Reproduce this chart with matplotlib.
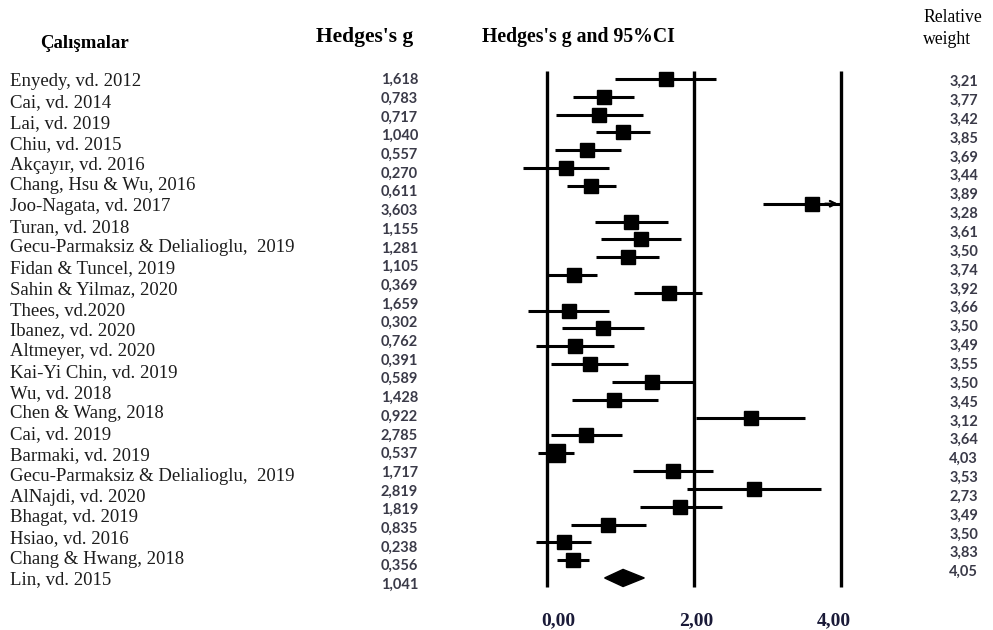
import numpy as np
import matplotlib.pyplot as plt
from matplotlib.transforms import ScaledTranslation

# study labels (left column)
studies = [
    "Enyedy, vd. 2012", "Cai, vd. 2014", "Lai, vd. 2019", "Chiu, vd. 2015",
    "Akçayır, vd. 2016", "Chang, Hsu & Wu, 2016", "Joo-Nagata, vd. 2017",
    "Turan, vd. 2018", "Gecu-Parmaksiz & Delialioglu,  2019",
    "Fidan & Tuncel, 2019", "Sahin & Yilmaz, 2020", "Thees, vd.2020",
    "Ibanez, vd. 2020", "Altmeyer, vd. 2020", "Kai-Yi Chin, vd. 2019",
    "Wu, vd. 2018", "Chen & Wang, 2018", "Cai, vd. 2019", "Barmaki, vd. 2019",
    "Gecu-Parmaksiz & Delialioglu,  2019", "AlNajdi, vd. 2020",
    "Bhagat, vd. 2019", "Hsiao, vd. 2016", "Chang & Hwang, 2018", "Lin, vd. 2015",
]

# effect sizes listed in the Hedges's g column
hedges_g = [1.618, 0.783, 0.717, 1.040, 0.557, 0.270, 0.611, 3.603, 1.155,
            1.281, 1.105, 0.369, 1.659, 0.302, 0.762, 0.391, 0.589, 1.428,
            0.922, 2.785, 0.537, 1.717, 2.819, 1.819, 0.835, 0.238, 0.356]
pooled_g = 1.041

weights = [3.21, 3.77, 3.42, 3.85, 3.69, 3.44, 3.89, 3.28, 3.61, 3.50, 3.74,
           3.92, 3.66, 3.50, 3.49, 3.55, 3.50, 3.45, 3.12, 3.64, 4.03, 3.53,
           2.73, 3.49, 3.50, 3.83, 4.05]

# forest rows (one extra unlabelled study between rows 21 and 22)
extra_row = 21
effects = hedges_g[:extra_row] + [0.13] + hedges_g[extra_row:]
lower = [0.93, 0.365, 0.125, 0.67, 0.11, -0.32, 0.28, 2.94, 0.66, 0.74, 0.67,
         0.02, 1.19, -0.25, 0.21, -0.14, 0.06, 0.89, 0.35, 2.03, 0.06, -0.11,
         1.17, 1.91, 1.27, 0.33, -0.14, 0.14]
upper = [2.30, 1.19, 1.31, 1.41, 1.01, 0.85, 0.95, 4.27, 1.65, 1.83, 1.53,
         0.69, 2.12, 0.85, 1.33, 0.92, 1.11, 2.00, 1.51, 3.52, 1.02, 0.37,
         2.26, 3.73, 2.38, 1.35, 0.61, 0.58]
pooled_ci = (0.79, 1.33)
x_max = 4.0

W, H = 993, 630
fig = plt.figure(figsize=(W / 100, H / 100), dpi=100)


def fx(x):
    return x / W


def fy(y):
    return 1 - y / H


serif = "Liberation Serif"
num_font = "Lato"
num_color = "#3a3a48"

# column headers
fig.text(fx(40), fy(43), "Çalışmalar", family=serif, weight="bold", fontsize=13.5,
         ha="left", va="center")
fig.text(fx(365), fy(37), "Hedges's g", family=serif, weight="bold", fontsize=15.5,
         ha="center", va="center")
fig.text(fx(578), fy(37), "Hedges's g and 95%CI", family=serif, weight="bold",
         fontsize=14.2, ha="center", va="center")
fig.text(fx(923), fy(18), "Relative", family=serif, fontsize=12.7, ha="left", va="center")
fig.text(fx(923), fy(40), "weight", family=serif, fontsize=12.7, ha="left", va="center")

for i, name in enumerate(studies):
    fig.text(fx(10), fy(82 + i * 20.75), name, family=serif, fontsize=13.5,
             ha="left", va="center", color="#1c1c1c")

for i, g in enumerate(hedges_g + [pooled_g]):
    fig.text(fx(418), fy(80 + i * 18.7), f"{g:.3f}".replace(".", ","),
             family=num_font, weight="bold", fontsize=10.5, ha="right", va="center",
             color=num_color)

for i, w in enumerate(weights):
    fig.text(fx(978), fy(82 + i * 18.85), f"{w:.2f}".replace(".", ","),
             family=num_font, weight="bold", fontsize=10.5, ha="right", va="center",
             color=num_color)

# forest plot
ax = fig.add_axes([fx(480), fy(600), fx(400), 540 / H])
n = len(effects)
rows = np.arange(n)
for pos in [0, 2, 4]:
    ax.vlines(pos, -0.47, n + 0.5, color="black", lw=2.4)

hi = np.minimum(upper, x_max)
ax.hlines(rows, lower, hi, color="black", lw=2.2)
sizes = np.full(n, 10.5)
sizes[extra_row] = 12.5
for y, e, s in zip(rows, effects, sizes):
    ax.plot(e, y, marker="s", ms=s, color="black", mec="black")
for y, u in zip(rows, upper):
    if u > x_max:
        ax.annotate("", xy=(x_max, y), xytext=(x_max - 0.25, y),
                    arrowprops=dict(arrowstyle="->", lw=1.6, color="black"))

# pooled estimate diamond
yd = n
dh = 0.48
ax.fill([pooled_ci[0], pooled_g, pooled_ci[1], pooled_g],
        [yd, yd - dh, yd, yd + dh], color="black")

ax.set_xlim((480 - 546.5) / 73.55, (880 - 546.5) / 73.55)
ax.set_ylim((600 - 79) / 17.82, (60 - 79) / 17.82)
ax.set_yticks([])
ax.set_xticks([0, 2, 4])
ax.set_xticklabels(["0,00", "2,00", "4,00"], family=serif, weight="bold",
                   fontsize=14, color="#1a1a38")
ax.tick_params(axis="x", length=0, pad=9)
for lab, dx in zip(ax.get_xticklabels(), [12, 3, -7]):
    lab.set_transform(lab.get_transform() + ScaledTranslation(dx / 100, 0, fig.dpi_scale_trans))
for sp in ax.spines.values():
    sp.set_visible(False)

fig.savefig("out.png", dpi=100)
